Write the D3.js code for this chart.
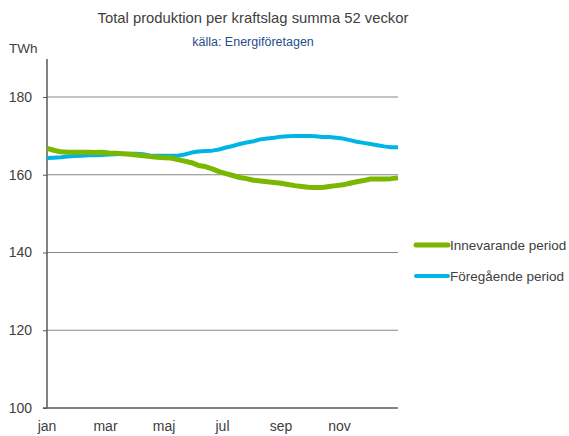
<!DOCTYPE html>
<html>
<head>
<meta charset="utf-8">
<script src="https://cdn.jsdelivr.net/npm/d3@7"></script>
<style>
  body { margin: 0; background: #fff; }
  text { font-family: "Liberation Sans", Arial, sans-serif; }
</style>
</head>
<body>
<div id="chart"></div>
<script>
// chart data (weekly, 52 weeks)
const months = ["jan", "mar", "maj", "jul", "sep", "nov"];
const monthWeeks = [0, 8.5, 17, 25.5, 34, 42.5];
const yTicks = [100, 120, 140, 160, 180];

const innevarande = [166.8, 166.3, 165.9, 165.8, 165.8, 165.8, 165.8, 165.7, 165.8, 165.6,
  165.5, 165.4, 165.3, 165.1, 164.9, 164.7, 164.5, 164.4, 164.3, 163.9,
  163.5, 163.1, 162.4, 162.1, 161.5, 160.8, 160.3, 159.8, 159.3, 159.0,
  158.6, 158.4, 158.2, 158.0, 157.8, 157.5, 157.2, 157.0, 156.8, 156.7,
  156.7, 157.0, 157.2, 157.4, 157.8, 158.2, 158.5, 158.9, 158.9, 158.9,
  159.0, 159.2];
const foregaende = [164.3, 164.4, 164.5, 164.7, 164.8, 164.9, 165.0, 165.0, 165.1, 165.2,
  165.3, 165.4, 165.4, 165.4, 165.3, 164.9, 164.9, 164.9, 164.9, 164.9,
  165.2, 165.7, 166.0, 166.1, 166.2, 166.5, 167.0, 167.4, 167.9, 168.3,
  168.6, 169.1, 169.3, 169.5, 169.8, 169.9, 170.0, 170.0, 170.0, 169.9,
  169.7, 169.7, 169.5, 169.3, 168.9, 168.5, 168.2, 167.9, 167.6, 167.3,
  167.1, 167.1];

const seriesNames = ["Innevarande period", "Föregående period"];
const seriesColors = ["#7ab800", "#00b5e5"];
const seriesWidths = [5, 4];

const width = 569, height = 436;
const margin = {top: 97, right: 171, bottom: 28, left: 47};

let svg = d3.select("#chart")
    .append("svg")
    .attr("width", width)
    .attr("height", height);

let x = d3.scaleLinear()
    .domain([0, 51])
    .range([margin.left, width - margin.right]);

let y = d3.scaleLinear()
    .domain([100, 180])
    .range([height - margin.bottom, margin.top]);

// gridlines
svg.append("g")
    .selectAll("line")
    .data(yTicks.filter(d => d > 100))
    .enter()
    .append("line")
    .attr("x1", x(0))
    .attr("x2", x(51))
    .attr("y1", d => y(d))
    .attr("y2", d => y(d))
    .attr("stroke", "#868686")
    .attr("stroke-width", 1);

// y axis
let yAxis = svg.append("g")
    .attr("transform", `translate(${x(0)}, 0)`)
    .call(d3.axisLeft(y).tickValues(yTicks).tickSize(4).tickPadding(11));
yAxis.select(".domain").attr("stroke", "#595959").attr("stroke-width", 1.5)
    .attr("d", `M0,${y(100)}V${y(180) - 38}`);
yAxis.selectAll(".tick line").attr("stroke", "#595959");
yAxis.selectAll(".tick text")
    .attr("fill", "#404040")
    .style("font-size", "14px");

// x axis
svg.append("line")
    .attr("x1", x(0) - 4)
    .attr("x2", x(51))
    .attr("y1", y(100))
    .attr("y2", y(100))
    .attr("stroke", "#595959")
    .attr("stroke-width", 1.5);

svg.append("g")
    .selectAll("text")
    .data(months)
    .enter()
    .append("text")
    .attr("x", (d, i) => x(monthWeeks[i]))
    .attr("y", y(100) + 23)
    .attr("text-anchor", "middle")
    .attr("fill", "#404040")
    .style("font-size", "14px")
    .text(d => d);

// lines
let line = d3.line()
    .x((d, i) => x(i))
    .y(d => y(d));

[foregaende, innevarande].forEach(function (s, k) {
    let idx = k === 0 ? 1 : 0;
    svg.append("path")
        .datum(s)
        .attr("fill", "none")
        .attr("stroke", seriesColors[idx])
        .attr("stroke-width", seriesWidths[idx])
        .attr("stroke-linejoin", "round")
        .attr("d", line);
});

// legend
let legend = svg.append("g");
seriesNames.forEach(function (name, i) {
    let ly = 245 + i * 31;
    legend.append("line")
        .attr("x1", 416).attr("x2", 448)
        .attr("y1", ly).attr("y2", ly)
        .attr("stroke", seriesColors[i])
        .attr("stroke-width", seriesWidths[i])
        .attr("stroke-linecap", "round");
    legend.append("text")
        .attr("x", 450)
        .attr("y", ly + 4.5)
        .attr("fill", "#404040")
        .style("font-size", "13.5px")
        .text(name);
});

// titles
svg.append("text")
    .attr("x", 253)
    .attr("y", 23)
    .attr("text-anchor", "middle")
    .attr("fill", "#404040")
    .style("font-size", "14.8px")
    .text("Total produktion per kraftslag summa 52 veckor");

svg.append("text")
    .attr("x", 253)
    .attr("y", 46)
    .attr("text-anchor", "middle")
    .attr("fill", "#1f4e8c")
    .style("font-size", "12.5px")
    .text("källa: Energiföretagen");

svg.append("text")
    .attr("x", 9)
    .attr("y", 53)
    .attr("fill", "#404040")
    .style("font-size", "13.5px")
    .text("TWh");
</script>
</body>
</html>
